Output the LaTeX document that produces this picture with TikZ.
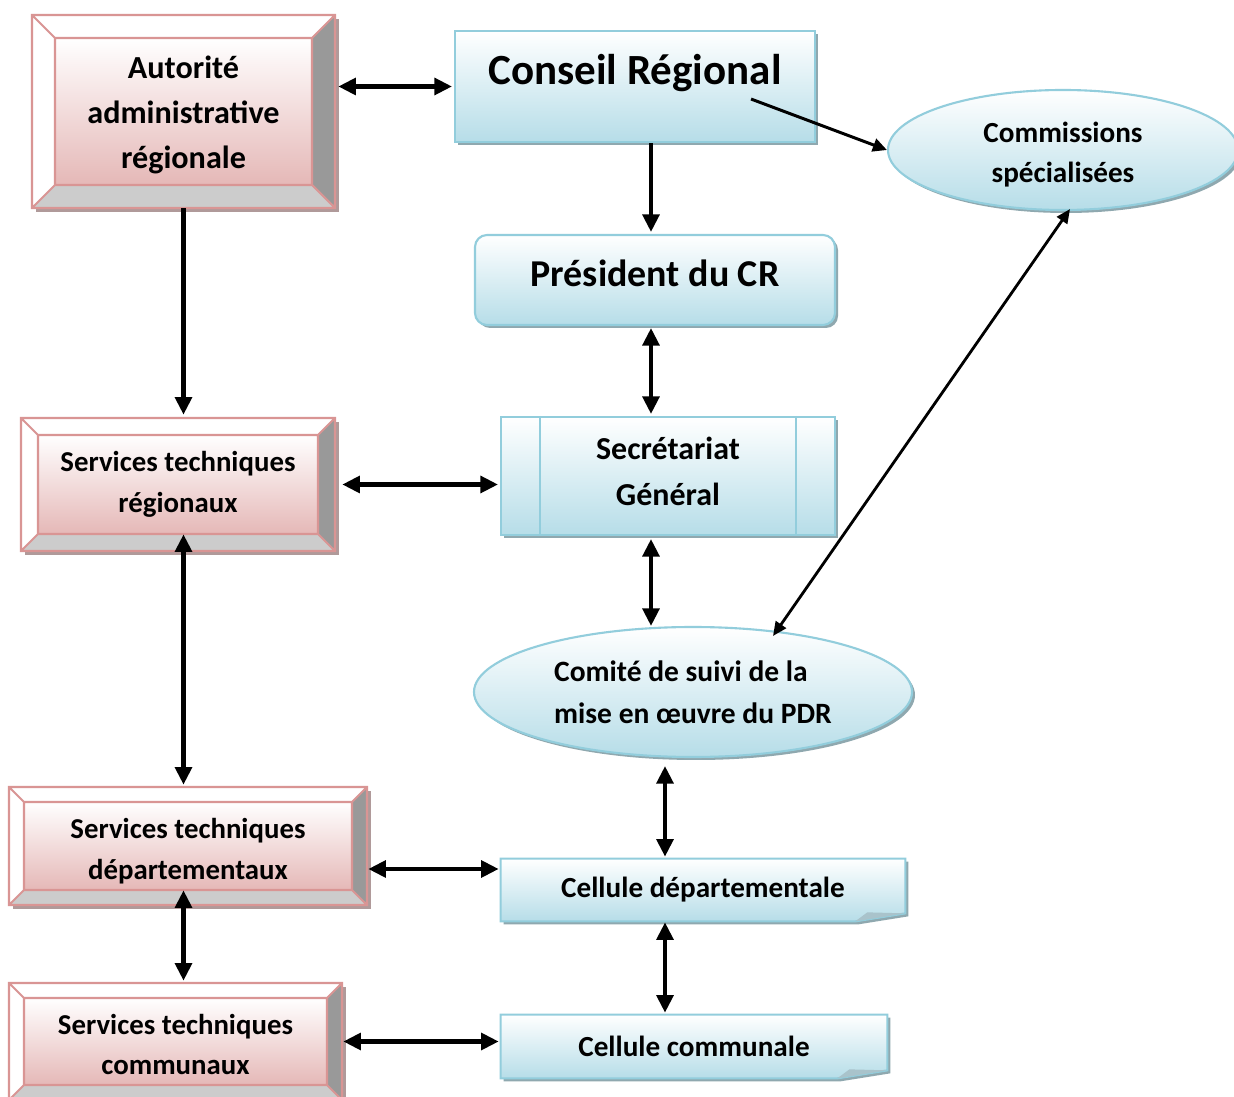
\documentclass[tikz,border=0pt]{standalone}
\usepackage{fontspec}
\setmainfont{Carlito}
\usetikzlibrary{arrows.meta,shapes.geometric,calc,shadows,backgrounds}
\definecolor{pinkline}{HTML}{D99594}
\definecolor{pinkB}{HTML}{E5B8B7}
\definecolor{bevR}{HTML}{999999}
\definecolor{bevB}{HTML}{CCCCCC}
\definecolor{pshadow}{HTML}{B09A9A}
\definecolor{blueline}{HTML}{92CDDC}
\definecolor{blueB}{HTML}{B6DDE8}
\definecolor{bshadow}{HTML}{8FA8AF}
\definecolor{foldc}{HTML}{A9C3CB}
\def\px{0.02cm}
\newcommand\svcfont{\fontsize{16.4}{23.3}\selectfont\bfseries}
\newcommand\bevbox[9]{%
 \fill[pshadow] (#2+4,#3+4) rectangle (#4+4,#5+4);
 \fill[white] (#2,#3) -- (#4,#3) -- (#4-#6,#3+#6) -- (#2+#6,#3+#6) -- cycle;
 \fill[white] (#2,#3) -- (#2+#6,#3+#6) -- (#2+#6,#5-#6) -- (#2,#5) -- cycle;
 \fill[bevR] (#4,#3) -- (#4-#6,#3+#6) -- (#4-#6,#5-#6) -- (#4,#5) -- cycle;
 \fill[bevB] (#2,#5) -- (#2+#6,#5-#6) -- (#4-#6,#5-#6) -- (#4,#5) -- cycle;
 \shade[top color=white, bottom color=pinkB] (#2+#6,#3+#6) rectangle (#4-#6,#5-#6);
 \draw[pinkline, line width=1.2pt] (#2,#3) rectangle (#4,#5) (#2+#6,#3+#6) rectangle (#4-#6,#5-#6)
   (#2,#3) -- (#2+#6,#3+#6) (#4,#3) -- (#4-#6,#3+#6) (#2,#5) -- (#2+#6,#5-#6) (#4,#5) -- (#4-#6,#5-#6);
 \node[inner sep=0pt, minimum width={(#4-#2)*\px}, minimum height={(#5-#3)*\px}]
   (#1) at ({(#2+#4)/2},{(#3+#5)/2}) {};
 \node[inner sep=0pt, align=center, font={#7}] at ($(#1.center)+(0,#9)$) {#8};
}
\newcommand\foldshape[1]{%
 \begin{scope}[on background layer]
  \fill[bshadow] ($(#1.north west)+(3,3)$) -- ($(#1.north east)+(3,3)$) -- ($(#1.south east)+(3,-5)$) -- ($(#1.south east)+(-47,3)$) -- ($(#1.south west)+(3,3)$) -- cycle;
  \draw[blueline, line width=1.2pt, top color=white, bottom color=blueB] (#1.north west) -- (#1.north east) -- ($(#1.south east)+(0,-8)$) -- ($(#1.south east)+(-50,0)$) -- (#1.south west) -- cycle;
  \fill[foldc] ($(#1.south east)+(0,-8)$) -- ($(#1.south east)+(-50,0)$) -- ($(#1.south east)+(-38,-9)$) -- cycle;
 \end{scope}}
\begin{document}
\begin{tikzpicture}[x=0.02cm,y=-0.02cm,
 dbl/.style={line width=2.3pt, {Triangle[length=10pt,width=9.5pt]}-{Triangle[length=10pt,width=9.5pt]}},
 one/.style={line width=2.3pt, -{Triangle[length=10pt,width=9.5pt]}},
 thinone/.style={line width=1.7pt, -{Triangle[length=8pt,width=7.5pt]}},
 thindbl/.style={line width=1.6pt, {Triangle[length=8pt,width=7pt]}-{Triangle[length=8pt,width=7pt]}},
 blue/.style={draw=blueline, line width=1.2pt, top color=white, bottom color=blueB, inner sep=0pt},
 bshad/.style={drop shadow={fill=bshadow, opacity=1, shadow xshift=0.06cm, shadow yshift=-0.06cm}},
 txtB/.style={font=\fontsize{16.6}{23.3}\selectfont\bfseries}]
\useasboundingbox (0,0) rectangle (1234,1097);
\clip (0,0) rectangle (1234,1097);
\begin{scope}[on background layer]
\fill[white] (0,0) rectangle (1234,1097);
\end{scope}

% pink bevel boxes
\bevbox{aut}{32}{15}{335}{208}{23}{\fontsize{18.3}{25.6}\selectfont\bfseries}{Autorité\\administrative\\régionale}{3}
\bevbox{str}{21}{418}{335}{551}{17}{\svcfont}{Services techniques\\régionaux}{0}
\bevbox{std}{9}{787}{367}{905}{15}{\svcfont}{Services techniques\\départementaux}{5}
\bevbox{stc}{9}{983}{342}{1100}{15}{\svcfont}{Services techniques\\communaux}{3}

% blue shapes
\node[blue, bshad, minimum width=360*\px, minimum height=111*\px] (cr) at (635,86.5) {};
\node[font=\fontsize{24.5}{29}\selectfont\bfseries] at ($(cr.north)+(0,43)$) {Conseil Régional};

\node[blue, bshad, ellipse, minimum width=350*\px, minimum height=120*\px] (com) at (1063,150) {};
\node[align=center, font=\fontsize{16.6}{22.8}\selectfont\bfseries] at ($(com.center)+(0,5)$) {Commissions\\spécialisées};

\node[blue, bshad, rounded corners=0.24cm, minimum width=360*\px, minimum height=90*\px] (pres) at (655,280) {};
\node[font=\fontsize{21.6}{26}\selectfont\bfseries] at ($(pres.center)+(0,-7)$) {Président du CR};

\node[blue, bshad, minimum width=334*\px, minimum height=118*\px] (sg) at (668,476) {};
\node[align=center, font=\fontsize{18.2}{26.2}\selectfont\bfseries] at ($(sg.center)+(0,-5)$) {Secrétariat\\Général};
\draw[blueline, line width=1.2pt] ($(sg.north west)+(40,0)$) -- ($(sg.south west)+(40,0)$)
  ($(sg.north east)+(-40,0)$) -- ($(sg.south east)+(-40,0)$);

\node[blue, bshad, ellipse, minimum width=438*\px, minimum height=130*\px, align=left,
  font=\fontsize{16.8}{23.9}\selectfont\bfseries] (comite) at (693,692) {Comité de suivi de la\\mise en œuvre du PDR};

\node[inner sep=0pt, minimum width=404*\px, minimum height=62*\px, txtB] (cd) at (703,890) {Cellule départementale};
\foldshape{cd}
\node[inner sep=0pt, minimum width=386*\px, minimum height=63*\px, txtB] (cc) at (694,1046.5) {Cellule communale};
\foldshape{cc}

% connectors
\coordinate (mx) at ($(pres.north)+(-4,0)$);
\draw[dbl, shorten <=0.06cm, shorten >=0.04cm] (aut.east |- cr.west) -- (cr.west);
\draw[one, shorten >=0.04cm] (mx |- cr.south) -- (mx |- pres.north);
\draw[thinone] ($(cr.south east)+(-65,-44)$) -- (com.west);
\draw[dbl, shorten <=0.04cm, shorten >=0.04cm] (mx |- pres.south) -- (mx |- sg.north);
\draw[dbl, shorten <=0.06cm] (mx |- sg.south) -- (mx |- comite.north);
\draw[thindbl] ($(com.south)+(7,-2)$) -- ($(comite.center)+(80,-56)$);
\draw[one, shorten >=0.06cm] (aut.south) -- (aut.south |- str.north);
\draw[dbl, shorten <=0.14cm, shorten >=0.04cm] (str.east) -- (str.east -| sg.west);
\draw[dbl, shorten >=0.04cm] ([yshift=0.34cm]str.south -| aut.south) -- (aut.south |- std.north);
\draw[dbl, shorten <=0.02cm, shorten >=0.04cm] ([yshift=-0.46cm]std.east) -- ([yshift=-0.46cm]std.east -| cd.west);
\draw[dbl, shorten >=0.04cm] ([yshift=0.3cm]std.south -| aut.south) -- (aut.south |- stc.north);
\draw[dbl, shorten <=0.02cm, shorten >=0.04cm] (stc.east) -- (stc.east -| cc.west);
\draw[dbl, shorten >=0.04cm] ($(comite.south)+(-28,8)$) -- ($(cd.north)+(-38,0)$);
\draw[dbl, shorten <=0.02cm, shorten >=0.04cm] ($(cd.south)+(-38,0)$) -- ($(cc.north)+(-29,0)$);
\end{tikzpicture}
\end{document}
